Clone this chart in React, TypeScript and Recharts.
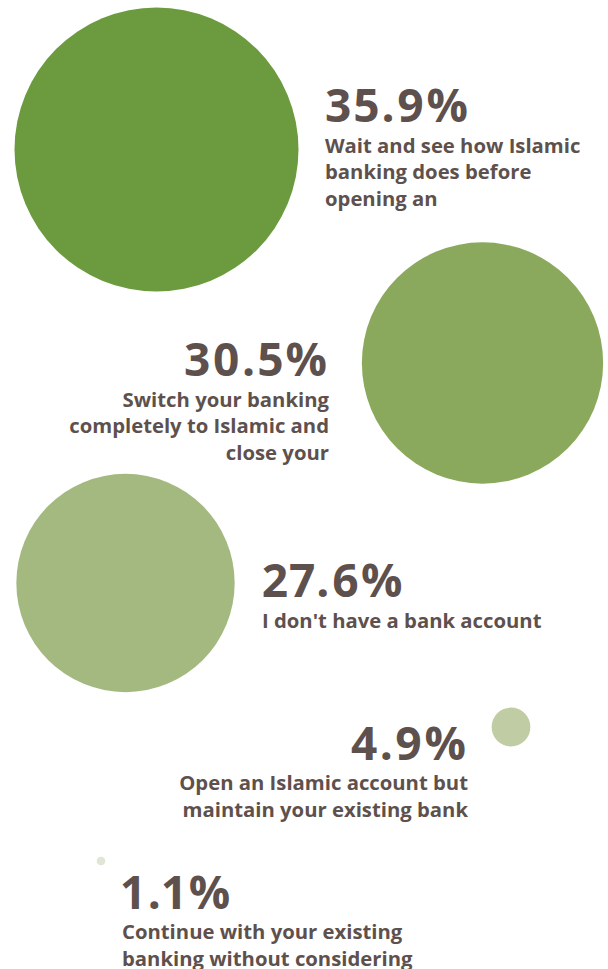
import React from 'react';
import { ScatterChart, Scatter, XAxis, YAxis } from 'recharts';

const values = [35.9, 30.5, 27.6, 4.9, 1.1];
const answers = [
  ['Wait and see how Islamic', 'banking does before', 'opening an'],
  ['Switch your banking', 'completely to Islamic and', 'close your'],
  ["I don't have a bank account"],
  ['Open an Islamic account but', 'maintain your existing bank'],
  ['Continue with your existing', 'banking without considering'],
];
const colors = ['#6c9b3f', '#8aa95c', '#a4b980', '#c0cda4', '#dfe6d3'];

// layout (chart units = px)
const bubbleX = [156.5, 482.5, 125.5, 511, 101];
const bubbleY = [149.5, 363, 583, 727, 861];
const textX = [325, 329, 262, 468, 122];
const textY = [122, 376, 597, 759.5, 908.5];
const textAnchor = ['start', 'end', 'start', 'end', 'start'];

const W = 608;
const H = 969;
const MAX_R = 142;
const TEXT = '#5e514d';
const FONT = "'Open Sans', sans-serif";

const maxV = Math.max(...values);

const bubbles = values.map((v, i) => ({ x: bubbleX[i], y: bubbleY[i], value: v, color: colors[i] }));
const texts = values.map((v, i) => ({
  x: textX[i],
  y: textY[i],
  value: v,
  lines: answers[i],
  anchor: textAnchor[i],
}));

const Bubble = (props: any) => {
  const { cx, cy, payload } = props;
  const r = (payload.value / maxV) * MAX_R;
  return <circle cx={cx} cy={cy} r={r} fill={payload.color} />;
};

const Label = (props: any) => {
  const { cx, cy, payload } = props;
  return (
    <g>
      <text
        x={cx}
        y={cy}
        textAnchor={payload.anchor}
        fontFamily={FONT}
        fontWeight={700}
        fontSize={46}
        fill={TEXT}
        letterSpacing={2}
        style={{ fontVariantNumeric: 'proportional-nums' }}
      >
        {payload.value.toFixed(1)}%
      </text>
      {payload.lines.map((l: string, j: number) => (
        <text
          key={j}
          x={cx}
          y={cy + 30.5 + j * 26.5}
          textAnchor={payload.anchor}
          fontFamily={FONT}
          fontWeight={700}
          fontSize={20.3}
          fill={TEXT}
        >
          {l}
        </text>
      ))}
    </g>
  );
};

export default function App() {
  return (
    <div style={{ position: 'absolute', left: 0, top: 0, width: W, height: H, background: '#fff' }}>
      <ScatterChart width={W} height={H} margin={{ top: 0, right: 0, bottom: 0, left: 0 }}>
        <XAxis type="number" dataKey="x" domain={[0, W]} hide />
        <YAxis type="number" dataKey="y" domain={[0, H]} reversed hide />
        <Scatter data={bubbles} shape={Bubble} isAnimationActive={false} />
        <Scatter data={texts} shape={Label} isAnimationActive={false} />
      </ScatterChart>
    </div>
  );
}
